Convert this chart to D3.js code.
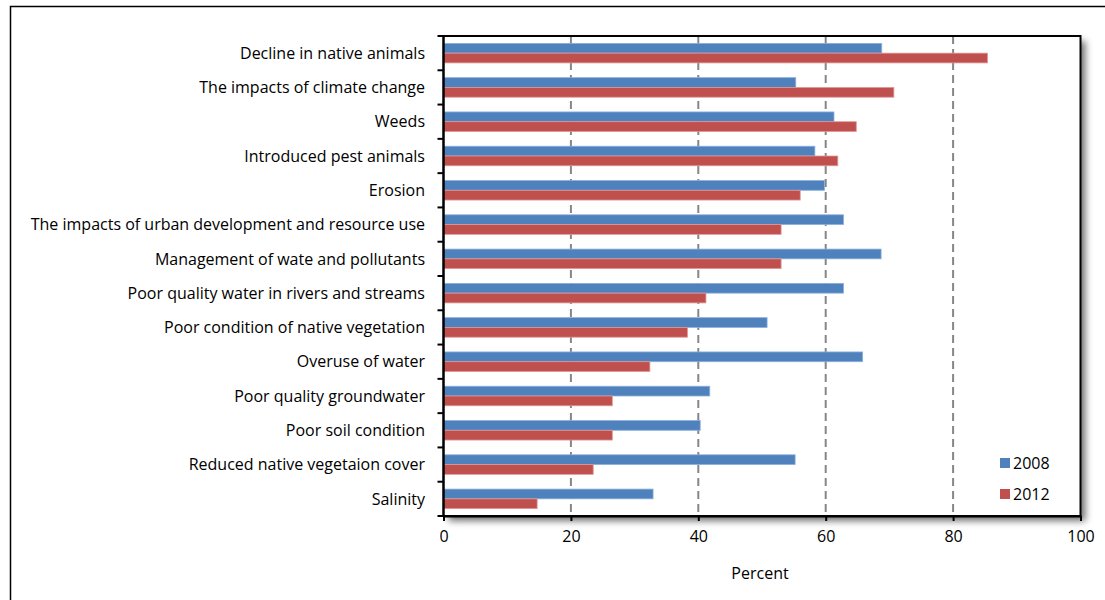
<!DOCTYPE html>
<html>
<head>
<meta charset="utf-8">
<script src="https://cdn.jsdelivr.net/npm/d3@7/dist/d3.min.js"></script>
<style>
  html, body { margin: 0; padding: 0; background: #fff; }
  svg { display: block; font-family: "Open Sans", Lato, sans-serif; }
</style>
</head>
<body>
<svg id="chart" width="1105" height="600"></svg>
<script>
// Issues of concern, share of respondents (%)
const categories = [
  "Decline in native animals",
  "The impacts of climate change",
  "Weeds",
  "Introduced pest animals",
  "Erosion",
  "The impacts of urban development and resource use",
  "Management of wate and pollutants",
  "Poor quality water in rivers and streams",
  "Poor condition of native vegetation",
  "Overuse of water",
  "Poor quality groundwater",
  "Poor soil condition",
  "Reduced native vegetaion cover",
  "Salinity"
];
const values2008 = [68.8, 55.3, 61.3, 58.3, 59.8, 62.8, 68.7, 62.8, 50.8, 65.8, 41.8, 40.3, 55.2, 32.9];
const values2012 = [85.4, 70.7, 64.8, 61.9, 56.0, 53.0, 53.0, 41.2, 38.3, 32.4, 26.5, 26.5, 23.5, 14.7];
const seriesNames = ["2008", "2012"];
const seriesColors = ["#4F81BD", "#C0504D"];
const seriesEdges = ["#8DB0DC", "#E09896"];
const xTicks = [0, 20, 40, 60, 80, 100];
const axisTitle = "Percent";

const FONT = "'Open Sans', Lato, sans-serif";
const FS = 16;
const svg = d3.select("#chart");

// chart frame
svg.append("rect")
  .attr("x", 10.5).attr("y", 6.5)
  .attr("width", 1110).attr("height", 620)
  .attr("fill", "#fff").attr("stroke", "#000").attr("stroke-width", 1.5);

const plot = { left: 443.5, top: 36, right: 1080.5, bottom: 516 };

const x = d3.scaleLinear().domain([0, 100]).range([plot.left, plot.right]);
const y = d3.scaleBand().domain(categories).range([plot.top, plot.bottom]).paddingInner(0.43).paddingOuter(0.215);
const ySub = d3.scaleBand().domain(seriesNames).range([0, y.bandwidth()]);

// drop shadow under the plot area
const defs = svg.append("defs");
const f = defs.append("filter").attr("id", "shadow")
  .attr("x", "-5%").attr("y", "-5%").attr("width", "115%").attr("height", "120%");
f.append("feDropShadow").attr("dx", 5).attr("dy", 5).attr("stdDeviation", 3.5)
  .attr("flood-color", "#000").attr("flood-opacity", 0.55);

svg.append("rect")
  .attr("x", plot.left).attr("y", plot.top)
  .attr("width", plot.right - plot.left).attr("height", plot.bottom - plot.top)
  .attr("fill", "#fff").attr("filter", "url(#shadow)");

// dashed vertical gridlines
svg.append("g").selectAll("line")
  .data(xTicks.filter(t => t > 0 && t < 100))
  .join("line")
  .attr("x1", d => x(d)).attr("x2", d => x(d))
  .attr("y1", plot.top).attr("y2", plot.bottom)
  .attr("stroke", "#868686").attr("stroke-width", 2)
  .attr("stroke-dasharray", "8,5");

// bars
const rows = categories.map((c, i) => ({ c, vals: [values2008[i], values2012[i]] }));
const groups = svg.append("g").selectAll("g")
  .data(rows).join("g")
  .attr("transform", d => `translate(0,${y(d.c)})`);
groups.selectAll("rect")
  .data(d => d.vals.map((v, k) => ({ v, k })))
  .join("rect")
  .attr("x", x(0))
  .attr("y", d => ySub(seriesNames[d.k]))
  .attr("width", d => x(d.v) - x(0))
  .attr("height", ySub.bandwidth())
  .attr("fill", d => seriesColors[d.k])
  .attr("stroke", d => seriesEdges[d.k])
  .attr("stroke-width", 0.8);

// plot border
svg.append("rect")
  .attr("x", plot.left).attr("y", plot.top)
  .attr("width", plot.right - plot.left).attr("height", plot.bottom - plot.top)
  .attr("fill", "none").attr("stroke", "#000").attr("stroke-width", 2);

// x axis
const xAxis = svg.append("g")
  .attr("transform", `translate(0,${plot.bottom})`)
  .call(d3.axisBottom(x).tickValues(xTicks).tickSize(5).tickPadding(10));
xAxis.select(".domain").attr("stroke", "#000").attr("stroke-width", 2);
xAxis.selectAll(".tick line").attr("stroke", "#000").attr("stroke-width", 2);
xAxis.selectAll("text").attr("font-size", FS).attr("fill", "#000")
  .style("font-family", FONT);

// y axis: ticks at band boundaries, labels centred on bands
const bounds = d3.range(categories.length + 1).map(i => plot.top + i * y.step());
svg.append("g").selectAll("line")
  .data(bounds).join("line")
  .attr("x1", plot.left - 6).attr("x2", plot.left)
  .attr("y1", d => d).attr("y2", d => d)
  .attr("stroke", "#000").attr("stroke-width", 2);
svg.append("line")
  .attr("x1", plot.left).attr("x2", plot.left)
  .attr("y1", plot.top).attr("y2", plot.bottom)
  .attr("stroke", "#000").attr("stroke-width", 2);
svg.append("g").selectAll("text")
  .data(categories).join("text")
  .attr("x", 425)
  .attr("y", d => y(d) + y.bandwidth() / 2)
  .attr("dy", "0.36em")
  .attr("text-anchor", "end")
  .attr("font-size", FS)
  .attr("fill", "#000")
  .text(d => d);

// axis title
svg.append("text")
  .attr("x", 760).attr("y", 579)
  .attr("text-anchor", "middle")
  .attr("font-size", FS)
  .text(axisTitle);

// legend
const legend = svg.append("g").selectAll("g")
  .data(seriesNames).join("g")
  .attr("transform", (d, i) => `translate(1000,${463 + i * 31})`);
legend.append("rect")
  .attr("x", 0).attr("y", -5).attr("width", 10).attr("height", 10)
  .attr("fill", (d, i) => seriesColors[i]);
legend.append("text")
  .attr("x", 13).attr("y", 0).attr("dy", "0.35em")
  .attr("font-size", FS)
  .text(d => d);
</script>
</body>
</html>
